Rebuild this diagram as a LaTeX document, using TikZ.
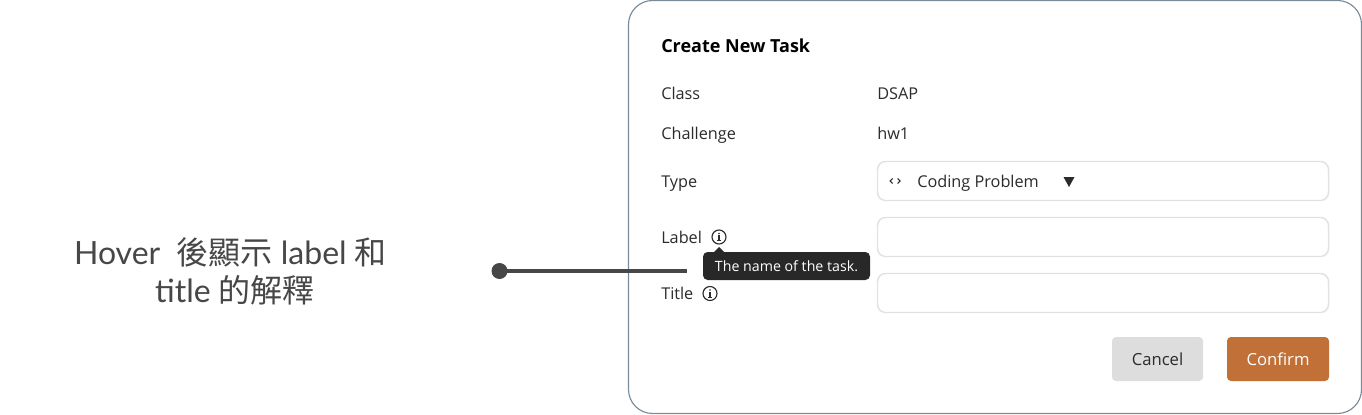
\documentclass[tikz,border=0pt]{standalone}
\usepackage{fontspec}
\setmainfont{Open Sans}
\newfontfamily\latofont{Lato}
\newfontfamily\cjk{Noto Sans CJK TC}
\definecolor{ink}{HTML}{2B2B2B}
\definecolor{panelline}{HTML}{7A8A96}
\definecolor{fieldline}{HTML}{E2E2E2}
\definecolor{cancelfill}{HTML}{DDDDDD}
\definecolor{confirmfill}{HTML}{C17037}
\definecolor{tipfill}{HTML}{282828}
\definecolor{callout}{HTML}{474747}
\newcommand{\fs}[1]{\fontsize{#1}{#1}\selectfont}
\tikzset{
  lbl/.style={anchor=base west,inner sep=0pt,text=ink,font=\fs{12.2}},
  field/.style={draw=fieldline,line width=1.1pt,fill=white,rounded corners=6pt},
  infoicon/.style={circle,draw=ink,line width=0.85pt,minimum size=10.5pt,inner sep=0pt},
  btntext/.style={inner sep=0pt,font=\fs{12.5}},
  lefttext/.style={text=callout,inner sep=0pt,font=\latofont\fs{24},anchor=base}
}
\begin{document}
\begin{tikzpicture}[x=0.75pt,y=-0.75pt]
\useasboundingbox (0,0) rectangle (1362,414);
\fill[white] (0,0) rectangle (1362,414);
\draw[panelline,line width=0.85pt,rounded corners=18pt,fill=white] (628.5,0.5) rectangle (1361.5,413.5);
\node[lbl,font=\fontspec{Open Sans Bold}\fs{13.5},text=black] (heading) at (661,52.5) {Create New Task};
\node[lbl] (class) at (661,99) {Class};
\node[lbl] (classv) at (877,99) {DSAP};
\node[lbl] (chal) at (661,139) {Challenge};
\node[lbl] (chalv) at (877,139) {hw1};
\node[lbl] (type) at (661,187) {Type};
\node[lbl] (label) at (661,243) {Label};
\node[lbl] (title) at (661,299) {Title};
\draw[field] (877.5,161.5) rectangle (1328.5,200.5);
\draw[field] (877.5,217.5) rectangle (1328.5,256.5);
\draw[field] (877.5,273.5) rectangle (1328.5,312.5);
\node[lbl] (coding) at (917,187) {Coding Problem};
\draw[ink,line width=0.8pt] (892.5,178.5) -- (890,181) -- (892.5,183.5);
\draw[ink,line width=0.8pt] (897.5,178.5) -- (900,181) -- (897.5,183.5);
\fill[ink] (1063.5,177) -- (1074.5,177) -- (1069,187) -- cycle;
\node[infoicon] (info1) at (719,237) {};
\node[infoicon] (info2) at (710,293.5) {};
\foreach \n in {info1,info2}{
  \fill[ink] ([yshift=2.6pt]\n.center) circle (0.65pt);
  \draw[ink,line width=0.85pt] ([shift={(-0.9pt,0.9pt)}]\n.center) -- ([shift={(0pt,0.9pt)}]\n.center) -- ([shift={(0pt,-2.8pt)}]\n.center);
  \draw[ink,line width=0.7pt] ([shift={(-1.3pt,-2.8pt)}]\n.center) -- ([shift={(1.3pt,-2.8pt)}]\n.center);
}
\fill[tipfill] (714,252) -- (719,247) -- (724,252) -- cycle;
\node[fill=tipfill,rounded corners=3.5pt,minimum width=125.25pt,minimum height=21pt,inner sep=0pt,text=white,font=\fs{10.65}] (tip) at (786.5,266) {The name of the task.};
\node[fill=cancelfill,rounded corners=3pt,minimum width=68.25pt,minimum height=33pt,text=ink,btntext] (cancel) at (1157.5,359) {Cancel};
\node[fill=confirmfill,rounded corners=3pt,minimum width=76.5pt,minimum height=33pt,text=white,btntext] (confirm) at (1278,359) {Confirm};
\node[lefttext] (l1) at (230.5,264) {Hover\ \ {\cjk 後顯示} label {\cjk 和}};
\node[lefttext] (l2) at (235,302) {title {\cjk 的解釋}};
\node[circle,fill=callout,minimum size=12pt,inner sep=0pt] (dot) at (499.5,271) {};
\coordinate (lineend) at (687,271);
\draw[callout,line width=2.4pt] (dot.center) -- (lineend);
\end{tikzpicture}
\end{document}
